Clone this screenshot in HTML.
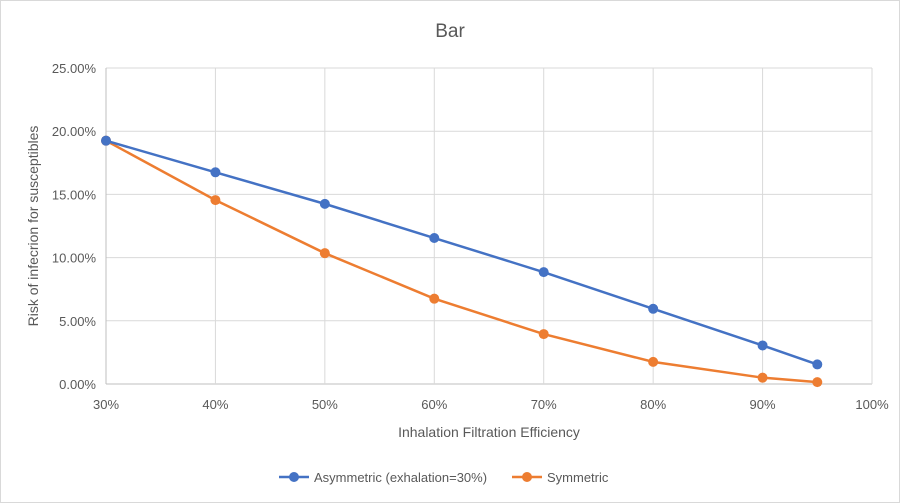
<!DOCTYPE html>
<html><head><meta charset="utf-8"><style>
body{margin:0;background:#fff}
svg{display:block;font-family:"Liberation Sans",sans-serif}
</style></head><body>
<svg width="900" height="503">
<rect x="0.5" y="0.5" width="899" height="502" fill="#fff" stroke="#d9d9d9"/>
<text x="450" y="37" text-anchor="middle" font-size="19" fill="#595959">Bar</text>
<g id="grid"></g><g id="series"></g>
<text transform="translate(38,226) rotate(-90)" text-anchor="middle" font-size="14" fill="#595959">Risk of infecrion for susceptibles</text>
<text x="489" y="437" text-anchor="middle" font-size="14" fill="#595959">Inhalation Filtration Efficiency</text>
<g>
<g><line x1="279" y1="477" x2="309" y2="477" stroke="#4472c4" stroke-width="2.5"/><circle cx="294" cy="477" r="5" fill="#4472c4"/><text x="314" y="482" font-size="13" fill="#595959">Asymmetric (exhalation=30%)</text></g>
<g><line x1="512" y1="477" x2="542" y2="477" stroke="#ed7d31" stroke-width="2.5"/><circle cx="527" cy="477" r="5" fill="#ed7d31"/><text x="547" y="482" font-size="13" fill="#595959">Symmetric</text></g>
</g>
</svg>
<script>
const xCats=[30,40,50,60,70,80,90,95];
const asym=[19.25,16.75,14.25,11.55,8.85,5.95,3.05,1.55];
const sym=[19.25,14.55,10.35,6.75,3.95,1.75,0.5,0.15];
const yTicks=[0,5,10,15,20,25];
const xTicks=[30,40,50,60,70,80,90,100];
const NS="http://www.w3.org/2000/svg";
const X=v=>106+(v-30)*(872-106)/70;
const Y=v=>384-v*(384-68)/25;
const grid=document.getElementById('grid'),ser=document.getElementById('series');
function mk(tag,at,p){const e=document.createElementNS(NS,tag);for(const k in at)e.setAttribute(k,at[k]);p.appendChild(e);return e;}
yTicks.forEach(t=>{
 const l=mk('line',{x1:106,x2:872,y1:Y(t),y2:Y(t),stroke:t===0?'#bfbfbf':'#d9d9d9'},grid);
 
 
 const tx=mk('text',{x:96,y:Y(t)+5,'text-anchor':'end','font-size':13,fill:'#595959'},grid);
 tx.textContent=t.toFixed(2)+'%';
 
 
});
xTicks.forEach(t=>{
 const l=mk('line',{x1:X(t),x2:X(t),y1:68,y2:384,stroke:t===30?'#bfbfbf':'#d9d9d9'},grid);
 
 
 const tx=mk('text',{x:X(t),y:409,'text-anchor':'middle','font-size':13,fill:'#595959'},grid);
 tx.textContent=t+'%';
 
 
});
function draw(vals,color,name){
 const pl=mk('polyline',{points:vals.map((v,i)=>X(xCats[i])+','+Y(v)).join(' '),fill:'none',stroke:color,'stroke-width':2.5},ser);
 
 
 vals.forEach((v,i)=>{
  const c=mk('circle',{cx:X(xCats[i]),cy:Y(v),r:5,fill:color},ser);
  
  
 });
}
draw(sym,'#ed7d31','symmetric');
draw(asym,'#4472c4','asymmetric');
</script>
</body></html>
